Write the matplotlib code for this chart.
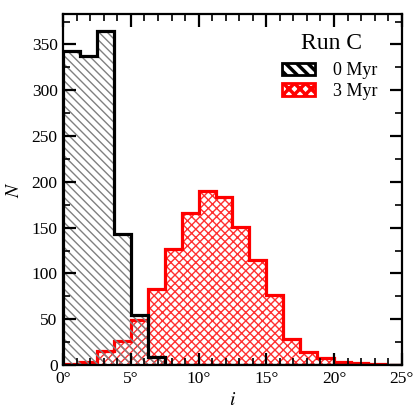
#!/usr/bin/env python3
"""Inclination histogram for Run C at 0 and 3 Myr."""
import matplotlib

matplotlib.use("Agg")
import matplotlib.pyplot as plt
from matplotlib.patches import Patch
from matplotlib.ticker import MultipleLocator
import numpy as np

# bin edges in degrees (1.25 deg bins)
bin_edges = np.linspace(0, 25, 21)
counts_0myr = [343, 337, 365, 143, 55, 9, 0, 0, 0, 0,
               0, 0, 0, 0, 0, 0, 0, 0, 0, 0]
counts_3myr = [1, 3, 15, 26, 49, 83, 127, 166, 190, 184,
               151, 115, 76, 29, 14, 8, 3, 2, 1, 0]
labels = ["0 Myr", "3 Myr"]
run_name = "Run C"

plt.rcParams["font.family"] = ["Liberation Serif", "DejaVu Serif"]
plt.rcParams["mathtext.fontset"] = "stix"
plt.rcParams["hatch.linewidth"] = 1.0

fig = plt.figure(figsize=(4.13, 4.13), dpi=100)
ax = fig.add_axes([0.153, 0.116, 0.8196, 0.85])

# red (3 Myr) hatch then outline
ax.stairs(counts_3myr, bin_edges, fill=True, facecolor="none",
          edgecolor="#ff3030", hatch="xxxx", linewidth=0)
ax.stairs(counts_3myr, bin_edges, color="red", linewidth=2.3)
# black (0 Myr) hatch then outline
ax.stairs(counts_0myr, bin_edges, fill=True, facecolor="none",
          edgecolor="0.5", hatch="\\\\\\\\", linewidth=0)
ax.stairs(counts_0myr, bin_edges, color="black", linewidth=2.3)

ax.set_xlim(0, 25)
ax.set_ylim(0, 1.05 * max(counts_0myr))
ax.xaxis.set_major_locator(MultipleLocator(5))
ax.xaxis.set_minor_locator(MultipleLocator(1))
ax.yaxis.set_major_locator(MultipleLocator(50))
ax.yaxis.set_minor_locator(MultipleLocator(25))
ax.set_xticks(np.arange(0, 26, 5))
ax.set_xticklabels([f"{v}\u00b0" for v in range(0, 26, 5)])
ax.tick_params(which="both", direction="in", top=True, right=True,
               labelsize=12.5)
ax.tick_params(which="major", length=9, width=1.6, pad=4)
ax.tick_params(which="minor", length=5, width=1.2)
for sp in ax.spines.values():
    sp.set_linewidth(1.6)

ax.set_xlabel("$i$", fontsize=14, labelpad=4)
ax.set_ylabel("$N$", fontsize=14, labelpad=6)

ax.text(0.794, 0.915, run_name, transform=ax.transAxes, fontsize=17,
        ha="center", va="center")

with plt.rc_context({"hatch.linewidth": 2.5}):
    handles = [
        Patch(facecolor="white", edgecolor="black", hatch="\\\\\\",
              linewidth=2),
        Patch(facecolor="white", edgecolor="red", hatch="xxx", linewidth=2),
    ]
    ax.legend(handles, labels, loc="upper left",
              bbox_to_anchor=(0.647, 0.862), frameon=False, fontsize=13,
              handlelength=1.8, handleheight=0.7, handletextpad=1.0,
              labelspacing=0.2, borderpad=0, borderaxespad=0)

fig.savefig("out.png", dpi=100)
